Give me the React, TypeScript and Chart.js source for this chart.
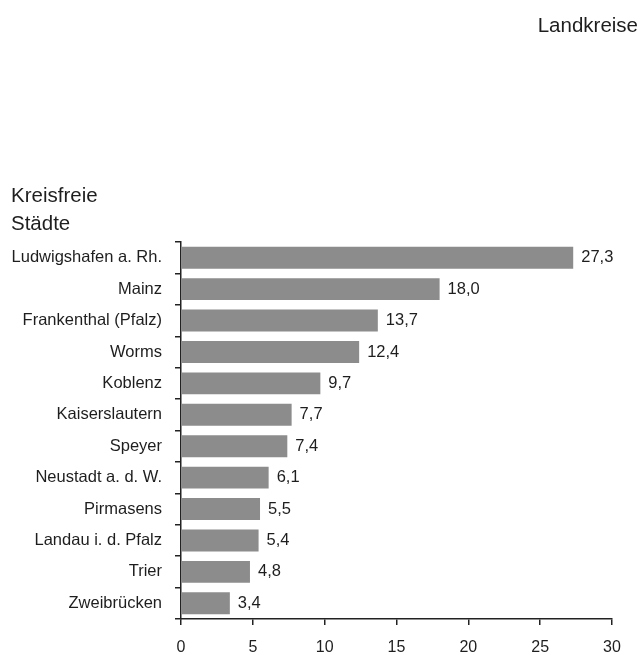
import React, { useEffect, useRef } from "react";
import { Chart, registerables } from "chart.js";

Chart.register(...registerables);

const categories = [
  "Ludwigshafen a. Rh.",
  "Mainz",
  "Frankenthal (Pfalz)",
  "Worms",
  "Koblenz",
  "Kaiserslautern",
  "Speyer",
  "Neustadt a. d. W.",
  "Pirmasens",
  "Landau i. d. Pfalz",
  "Trier",
  "Zweibrücken",
];
const values = [27.3, 18.0, 13.7, 12.4, 9.7, 7.7, 7.4, 6.1, 5.5, 5.4, 4.8, 3.4];
const xTicks = [0, 5, 10, 15, 20, 25, 30];
const titleLines = ["Kreisfreie", "Städte"];
const rightTitle = "Landkreise";

const FONT = "'Liberation Sans', Arial, Helvetica, sans-serif";
const TEXT = "#1e1e1e";
const BAR = "#8c8c8c";

const fmt = (v: number) => v.toFixed(1).replace(".", ",");

const labelsPlugin = {
  id: "barLabels",
  afterDatasetsDraw(chart: any) {
    const ctx = chart.ctx;
    const meta = chart.getDatasetMeta(0);
    ctx.save();
    ctx.font = `16.5px ${FONT}`;
    ctx.fillStyle = TEXT;
    ctx.textBaseline = "middle";
    ctx.textAlign = "left";
    meta.data.forEach((el: any, i: number) => {
      ctx.fillText(fmt(values[i]), el.x + 8, el.y);
    });
    ctx.restore();
  },
};

const titlesPlugin = {
  id: "titles",
  afterDraw(chart: any) {
    const ctx = chart.ctx;
    ctx.save();
    ctx.font = `20.5px ${FONT}`;
    ctx.fillStyle = TEXT;
    ctx.textBaseline = "alphabetic";
    ctx.textAlign = "left";
    ctx.fillText(titleLines[0], 11, 202);
    ctx.fillText(titleLines[1], 11, 230);
    ctx.textAlign = "right";
    ctx.fillText(rightTitle, 638, 32);
    ctx.restore();
  },
};

export default function App() {
  const ref = useRef<HTMLCanvasElement | null>(null);
  useEffect(() => {
    if (!ref.current) return;
    const chart = new Chart(ref.current, {
      type: "bar",
      data: {
        labels: categories,
        datasets: [
          {
            data: values,
            backgroundColor: BAR,
            borderWidth: 0,
            barPercentage: 0.7,
            categoryPercentage: 1,
          },
        ],
      },
      options: {
        indexAxis: "y",
        animation: false,
        responsive: false,
        layout: { padding: { left: 0, right: 31, top: 242, bottom: 0 } },
        plugins: { legend: { display: false }, tooltip: { enabled: false } },
        scales: {
          x: {
            min: 0,
            max: 30,
            afterFit: (s: any) => {
              s.height = 36;
            },
            afterBuildTicks: (s: any) => {
              s.ticks = xTicks.map((v) => ({ value: v }));
            },
            border: { display: true, color: "#222", width: 1.5 },
            grid: {
              drawOnChartArea: false,
              drawTicks: true,
              tickLength: 6,
              color: "#222",
              lineWidth: 1.5,
            },
            ticks: {
              color: TEXT,
              font: { family: FONT, size: 16 },
              padding: 13,
              maxRotation: 0,
            },
          },
          y: {
            afterFit: (s: any) => {
              s.width = 181;
            },
            border: { display: true, color: "#222", width: 1.5 },
            grid: {
              offset: true,
              drawOnChartArea: false,
              drawTicks: true,
              tickLength: 6,
              color: "#222",
              lineWidth: 1.5,
            },
            ticks: {
              color: TEXT,
              font: { family: FONT, size: 16.5 },
              padding: 13,
              autoSkip: false,
            },
          },
        },
      },
      plugins: [labelsPlugin, titlesPlugin],
    });
    return () => chart.destroy();
  }, []);
  return (
    <div style={{ position: "fixed", left: 0, top: 0, width: 643, height: 655, background: "#fff" }}>
      <canvas ref={ref} width={643} height={655} style={{ width: 643, height: 655 }} />
    </div>
  );
}
